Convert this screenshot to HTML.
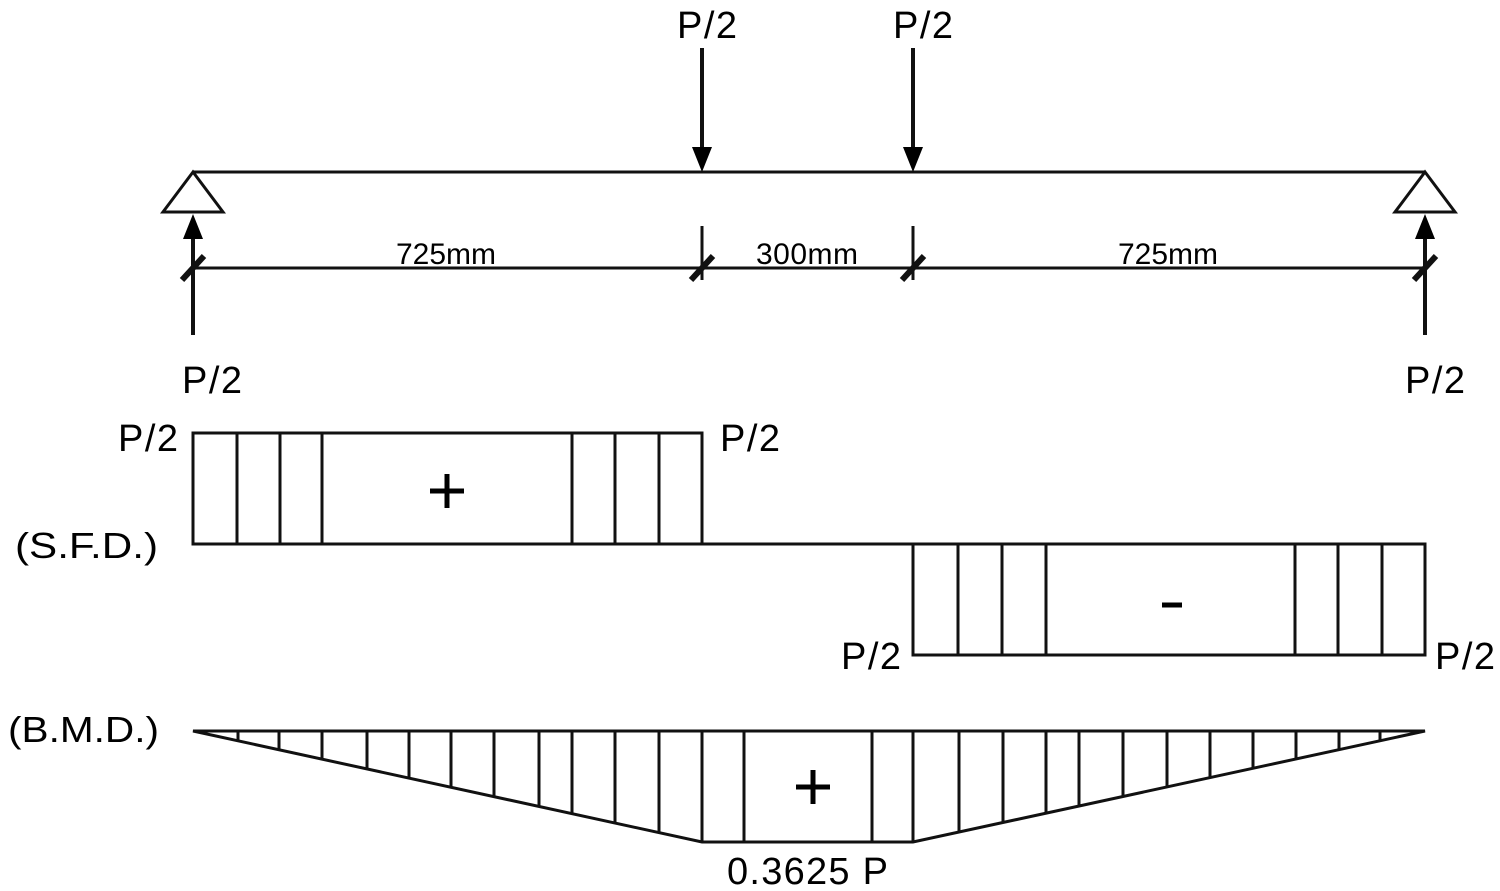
<!DOCTYPE html>
<html><head><meta charset="utf-8"><style>html,body{margin:0;padding:0;background:#fff}svg{display:block}</style></head><body>
<svg width="1500" height="891" viewBox="0 0 1500 891" xmlns="http://www.w3.org/2000/svg" font-family="Liberation Sans, Arial, sans-serif" fill="#000">
<g stroke="#111" stroke-width="3" fill="none">
<line x1="193" y1="172" x2="1425" y2="172"/>
<polygon points="193,172 163,212 223,212" fill="#fff"/>
<polygon points="1425,172 1395,212 1455,212" fill="#fff"/>
<line x1="193" y1="268" x2="1425" y2="268"/>
<line x1="702" y1="226" x2="702" y2="280"/>
<line x1="913" y1="226" x2="913" y2="280"/>
</g>
<g stroke="#111" stroke-width="6">
<line x1="182" y1="280" x2="204" y2="256"/>
<line x1="691" y1="280" x2="713" y2="256"/>
<line x1="902" y1="280" x2="924" y2="256"/>
<line x1="1414" y1="280" x2="1436" y2="256"/>
</g>
<g stroke="#111" stroke-width="4">
<line x1="702" y1="48" x2="702" y2="150"/>
<line x1="913" y1="48" x2="913" y2="150"/>
<line x1="193" y1="335" x2="193" y2="235"/>
<line x1="1425" y1="335" x2="1425" y2="235"/>
</g>
<polygon points="692,147 712,147 702,172"/>
<polygon points="903,147 923,147 913,172"/>
<polygon points="183,239 203,239 193,214"/>
<polygon points="1415,239 1435,239 1425,214"/>
<g font-size="38">
<text x="677" y="38" textLength="60">P/2</text>
<text x="893" y="38" textLength="60">P/2</text>
<text x="182" y="393" textLength="60">P/2</text>
<text x="1405" y="393" textLength="60">P/2</text>
<text x="118" y="451" textLength="60">P/2</text>
<text x="720" y="451" textLength="60">P/2</text>
<text x="841" y="669" textLength="60">P/2</text>
<text x="1435" y="669" textLength="60">P/2</text>
<text x="15" y="558" font-size="36" textLength="143" lengthAdjust="spacingAndGlyphs">(S.F.D.)</text>
<text x="8" y="742" font-size="36" textLength="151" lengthAdjust="spacingAndGlyphs">(B.M.D.)</text>
<text x="727" y="884" textLength="161">0.3625 P</text>
</g>
<g font-size="30">
<text x="396" y="264" textLength="100">725mm</text>
<text x="756" y="264" textLength="102">300mm</text>
<text x="1118" y="264" textLength="100">725mm</text>
</g>
<g stroke="#111" stroke-width="3" fill="none">
<rect x="193" y="433" width="509" height="111"/>
<line x1="702" y1="544" x2="913" y2="544"/>
<rect x="913" y="544" width="512" height="111"/>
<path d="M237 433V544M280 433V544M322 433V544M572 433V544M615 433V544M659 433V544"/>
<path d="M958 544V655M1002 544V655M1046 544V655M1295 544V655M1338 544V655M1382 544V655"/>
<polygon points="193,731 1425,731 913,842 702,842"/>
<path d="M238 731V741M279 731V750M322 731V759M367 731V769M409 731V778M451 731V787M494 731V797M539 731V806M572 731V814M615 731V823M659 731V833M702 731V842M744 731V842M872 731V842M913 731V842"/>
<path d="M1380 731V741M1339 731V750M1296 731V759M1253 731V768M1210 731V778M1167 731V787M1123 731V796M1079 731V806M1046 731V813M1003 731V822M959 731V832"/>
</g>
<g stroke="#000" stroke-width="5">
<line x1="430" y1="491" x2="464" y2="491"/><line x1="447" y1="474" x2="447" y2="508"/>
<line x1="796" y1="787" x2="830" y2="787"/><line x1="813" y1="770" x2="813" y2="804"/>
<line x1="1162" y1="605" x2="1182" y2="605"/>
</g>
</svg>
</body></html>
